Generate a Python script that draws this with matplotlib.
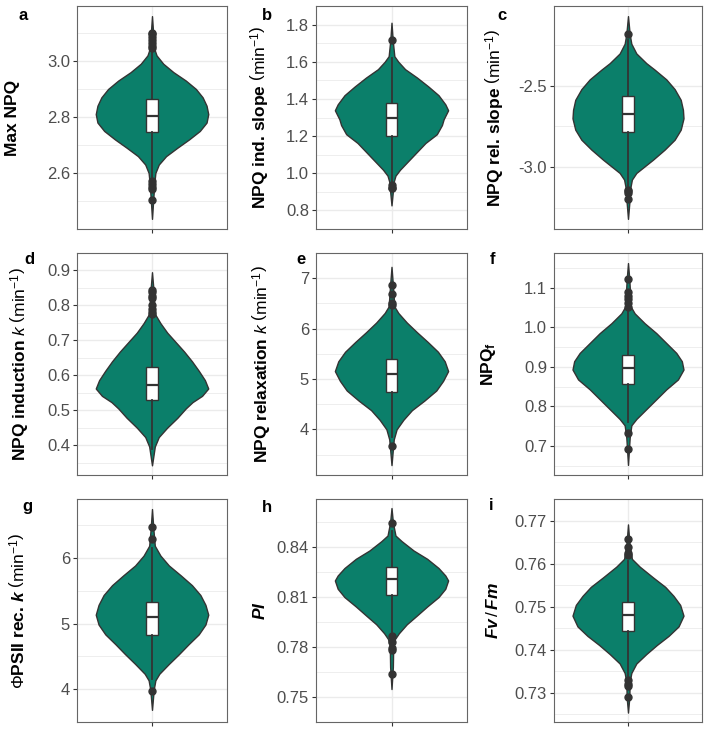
import matplotlib.pyplot as plt

plt.rcParams['font.family'] = ['Liberation Sans', 'DejaVu Sans']
plt.rcParams['mathtext.fontset'] = 'custom'
plt.rcParams['mathtext.rm'] = 'Liberation Sans'
plt.rcParams['mathtext.it'] = 'Liberation Sans:italic'
plt.rcParams['mathtext.bf'] = 'Liberation Sans:bold'
plt.rcParams['mathtext.bfit'] = 'Liberation Sans:bold:italic'
plt.rcParams['axes.unicode_minus'] = False

# --- a: Max NPQ ---
a_y = [2.436, 2.50, 2.56, 2.60, 2.63, 2.66, 2.69, 2.72, 2.75, 2.78, 2.81, 2.84, 2.87, 2.90, 2.93, 2.96, 2.99, 3.02, 3.05, 3.10, 3.16]
a_w = [0.0, 0.02, 0.04, 0.06, 0.12, 0.25, 0.45, 0.66, 0.85, 0.97, 1.0, 0.97, 0.9, 0.78, 0.6, 0.38, 0.2, 0.08, 0.03, 0.02, 0.0]
a_box = [2.746, 2.805, 2.864, 2.585, 3.035]  # q1, median, q3, whisker low, whisker high
a_out = [2.503, 2.542, 2.55, 2.56, 2.57, 3.045, 3.055, 3.065, 3.075, 3.085, 3.095, 3.10]
a_ticks = [2.6, 2.8, 3.0]
a_labels = ['2.6', '2.8', '3.0']

# --- b: NPQ ind. slope ---
b_y = [0.827, 0.89, 0.955, 0.987, 1.019, 1.067, 1.115, 1.163, 1.21, 1.259, 1.29, 1.339, 1.371, 1.42, 1.467, 1.515, 1.56, 1.60, 1.63, 1.72, 1.81]
b_w = [0.0, 0.02, 0.04, 0.07, 0.15, 0.30, 0.45, 0.60, 0.80, 0.89, 0.92, 1.0, 0.95, 0.83, 0.65, 0.45, 0.24, 0.12, 0.05, 0.02, 0.0]
b_box = [1.203, 1.30, 1.378, 0.95, 1.62]
b_out = [0.918, 0.923, 0.939, 1.718]
b_ticks = [0.8, 1.0, 1.2, 1.4, 1.6, 1.8]
b_labels = ['0.8', '1.0', '1.2', '1.4', '1.6', '1.8']

# --- c: NPQ rel. slope ---
c_y = [-3.32, -3.22, -3.14, -3.078, -3.037, -2.996, -2.955, -2.893, -2.832, -2.77, -2.70, -2.648, -2.586, -2.52, -2.46, -2.40, -2.36, -2.30, -2.24, -2.18, -2.07]
c_w = [0.0, 0.024, 0.036, 0.07, 0.15, 0.30, 0.45, 0.66, 0.84, 0.95, 1.0, 0.99, 0.95, 0.84, 0.69, 0.48, 0.33, 0.15, 0.06, 0.03, 0.0]
c_box = [-2.787, -2.674, -2.564, -3.12, -2.22]
c_out = [-3.20, -3.16, -3.15, -3.14, -2.182]
c_ticks = [-3.0, -2.5]
c_labels = ['-3.0', '-2.5']

# --- d: NPQ induction k ---
d_y = [0.342, 0.396, 0.423, 0.45, 0.478, 0.505, 0.523, 0.541, 0.562, 0.586, 0.613, 0.64, 0.668, 0.695, 0.722, 0.749, 0.776, 0.848, 0.895]
d_w = [0.0, 0.05, 0.12, 0.27, 0.45, 0.6, 0.72, 0.89, 1.0, 0.94, 0.83, 0.71, 0.57, 0.42, 0.27, 0.15, 0.05, 0.024, 0.0]
d_box = [0.530, 0.573, 0.624, 0.39, 0.765]
d_out = [0.775, 0.78, 0.79, 0.80, 0.821, 0.826, 0.838, 0.845]
d_ticks = [0.4, 0.5, 0.6, 0.7, 0.8, 0.9]
d_labels = ['0.4', '0.5', '0.6', '0.7', '0.8', '0.9']

# --- e: NPQ relaxation k ---
e_y = [3.29, 3.55, 3.80, 4.0, 4.19, 4.38, 4.57, 4.77, 4.96, 5.156, 5.35, 5.54, 5.734, 5.927, 6.12, 6.31, 6.44, 6.87, 7.225]
e_w = [0.0, 0.02, 0.04, 0.09, 0.21, 0.36, 0.58, 0.79, 0.91, 1.0, 0.94, 0.82, 0.64, 0.45, 0.27, 0.12, 0.05, 0.024, 0.0]
e_box = [4.738, 5.104, 5.40, 3.85, 6.42]
e_out = [3.665, 6.47, 6.505, 6.685, 6.87]
e_ticks = [4, 5, 6, 7]
e_labels = ['4', '5', '6', '7']

# --- f: NPQf ---
f_y = [0.652, 0.72, 0.752, 0.768, 0.793, 0.818, 0.843, 0.868, 0.893, 0.914, 0.935, 0.96, 0.985, 1.01, 1.035, 1.052, 1.12, 1.162]
f_w = [0.0, 0.03, 0.06, 0.15, 0.33, 0.51, 0.69, 0.9, 1.0, 0.97, 0.87, 0.69, 0.51, 0.3, 0.12, 0.05, 0.024, 0.0]
f_box = [0.856, 0.8975, 0.931, 0.76, 1.045]
f_out = [0.693, 0.733, 1.05, 1.06, 1.07, 1.08, 1.09, 1.122]
f_ticks = [0.7, 0.8, 0.9, 1.0, 1.1]
f_labels = ['0.7', '0.8', '0.9', '1.0', '1.1']

# --- g: PhiPSII rec. k ---
g_y = [3.685, 3.99, 4.135, 4.235, 4.385, 4.535, 4.685, 4.835, 4.985, 5.135, 5.285, 5.435, 5.585, 5.735, 5.885, 6.035, 6.185, 6.44, 6.745]
g_w = [0.0, 0.03, 0.06, 0.13, 0.3, 0.48, 0.65, 0.83, 0.95, 1.0, 0.95, 0.86, 0.71, 0.51, 0.3, 0.15, 0.05, 0.024, 0.0]
g_box = [4.825, 5.10, 5.325, 4.15, 6.15]
g_out = [3.975, 6.295, 6.475]
g_ticks = [4, 5, 6]
g_labels = ['4', '5', '6']

# --- h: PI ---
h_y = [0.7548, 0.768, 0.780, 0.7848, 0.7883, 0.7937, 0.799, 0.8044, 0.810, 0.815, 0.820, 0.823, 0.8275, 0.833, 0.838, 0.8436, 0.847, 0.855, 0.8635]
h_w = [0.0, 0.024, 0.03, 0.06, 0.13, 0.27, 0.45, 0.63, 0.83, 0.95, 1.0, 0.95, 0.83, 0.63, 0.39, 0.18, 0.07, 0.024, 0.0]
h_box = [0.8115, 0.8207, 0.828, 0.789, 0.8495]
h_out = [0.7637, 0.7785, 0.7794, 0.783, 0.7865, 0.8548]
h_ticks = [0.75, 0.78, 0.81, 0.84]
h_labels = ['0.75', '0.78', '0.81', '0.84']

# --- i: Fv/Fm ---
i_y = [0.7254, 0.729, 0.7325, 0.7346, 0.7368, 0.739, 0.7411, 0.7432, 0.7454, 0.7479, 0.7504, 0.7525, 0.7546, 0.7568, 0.7593, 0.7611, 0.765, 0.7691]
i_w = [0.0, 0.024, 0.03, 0.06, 0.15, 0.33, 0.52, 0.73, 0.91, 1.0, 0.94, 0.82, 0.67, 0.45, 0.21, 0.07, 0.024, 0.0]
i_box = [0.7444, 0.748, 0.7511, 0.734, 0.7605]
i_out = [0.7291, 0.7316, 0.7321, 0.7329, 0.7619, 0.7625, 0.7639, 0.7656]
i_ticks = [0.73, 0.74, 0.75, 0.76, 0.77]
i_labels = ['0.73', '0.74', '0.75', '0.76', '0.77']

ylabels = [
    'Max NPQ',
    r'NPQ ind. slope $\left(\mathrm{min}^{-1}\right)$',
    r'NPQ rel. slope $\left(\mathrm{min}^{-1}\right)$',
    r'NPQ induction $k$ $\left(\mathrm{min}^{-1}\right)$',
    r'NPQ relaxation $k$ $\left(\mathrm{min}^{-1}\right)$',
    r'NPQ$_\mathbf{f}$',
    r'$\Phi$PSII rec. $\mathbfit{k}$ $\left(\mathrm{min}^{-1}\right)$',
    r'$\mathbfit{PI}$',
    r'$\mathbfit{Fv}\,/\,\mathbfit{Fm}$',
]
letters = ['a', 'b', 'c', 'd', 'e', 'f', 'g', 'h', 'i']

panels = [
    (a_y, a_w, a_box, a_out, a_ticks, a_labels),
    (b_y, b_w, b_box, b_out, b_ticks, b_labels),
    (c_y, c_w, c_box, c_out, c_ticks, c_labels),
    (d_y, d_w, d_box, d_out, d_ticks, d_labels),
    (e_y, e_w, e_box, e_out, e_ticks, e_labels),
    (f_y, f_w, f_box, f_out, f_ticks, f_labels),
    (g_y, g_w, g_box, g_out, g_ticks, g_labels),
    (h_y, h_w, h_box, h_out, h_ticks, h_labels),
    (i_y, i_w, i_box, i_out, i_ticks, i_labels),
]

W, H = 709, 736
fig = plt.figure(figsize=(W / 100, H / 100), dpi=100)

# layout in pixels
cols = [(77, 227), (316, 467), (554, 702)]
rows = [(6, 229), (253, 475), (499, 722)]
ylab_x = [12, 260, 495, 20, 262, 488, 18, 260, 493]
letter_xy = [(23, 15), (267, 15), (502, 15), (29, 260), (301, 260), (492, 260), (27, 507), (267, 507), (491, 506)]

fill = '#0B7F6A'
dark = '#333333'

for k, (yy, ww, box, out, ticks, labels) in enumerate(panels):
    l, r = cols[k % 3]
    t, b = rows[k // 3]
    ax = fig.add_axes([l / W, 1 - b / H, (r - l) / W, (b - t) / H])

    vp = ax.violin([{'coords': yy, 'vals': ww, 'mean': box[1], 'median': box[1],
                     'min': yy[0], 'max': yy[-1]}],
                   positions=[1], widths=0.9, showextrema=False)
    for body in vp['bodies']:
        body.set_facecolor(fill)
        body.set_edgecolor(dark)
        body.set_alpha(1)
        body.set_linewidth(1.0)
        body.set_zorder(2)

    ax.bxp([{'q1': box[0], 'med': box[1], 'q3': box[2], 'whislo': box[3],
             'whishi': box[4], 'fliers': out}],
           positions=[1], widths=0.09, patch_artist=True, showcaps=False,
           manage_ticks=False, zorder=3,
           boxprops=dict(facecolor='white', edgecolor=dark, linewidth=1.0),
           medianprops=dict(color=dark, linewidth=1.6),
           whiskerprops=dict(color=dark, linewidth=1.3),
           flierprops=dict(marker='o', markerfacecolor=dark, markeredgecolor=dark, markersize=5))

    span = yy[-1] - yy[0]
    ax.set_ylim(yy[0] - 0.05 * span, yy[-1] + 0.05 * span)
    ax.set_xlim(0.4, 1.6)
    ax.set_xticks([1])
    ax.set_xticklabels([''])
    step = ticks[1] - ticks[0]
    ax.set_yticks(ticks)
    ax.set_yticklabels(labels)
    ax.set_yticks([ticks[0] - step / 2] + [v + step / 2 for v in ticks], minor=True)
    ax.grid(which='major', color='#EBEBEB', linewidth=1.0)
    ax.grid(which='minor', axis='y', color='#EBEBEB', linewidth=0.6)
    ax.set_axisbelow(True)
    ax.tick_params(which='major', length=3, pad=2, color=dark, labelcolor='#4D4D4D', labelsize=12, width=0.8)
    ax.tick_params(which='minor', length=0)
    for s in ax.spines.values():
        s.set_color('#666666')
        s.set_linewidth(0.8)

    fig.text(ylab_x[k] / W, 1 - (t + b) / 2 / H, ylabels[k], rotation=90,
             ha='center', va='center', fontsize=12.5, fontweight='bold')
    lx, ly = letter_xy[k]
    fig.text(lx / W, 1 - ly / H, letters[k], ha='center', va='center',
             fontsize=12, fontweight='bold')

fig.savefig('out.png', dpi=100)
